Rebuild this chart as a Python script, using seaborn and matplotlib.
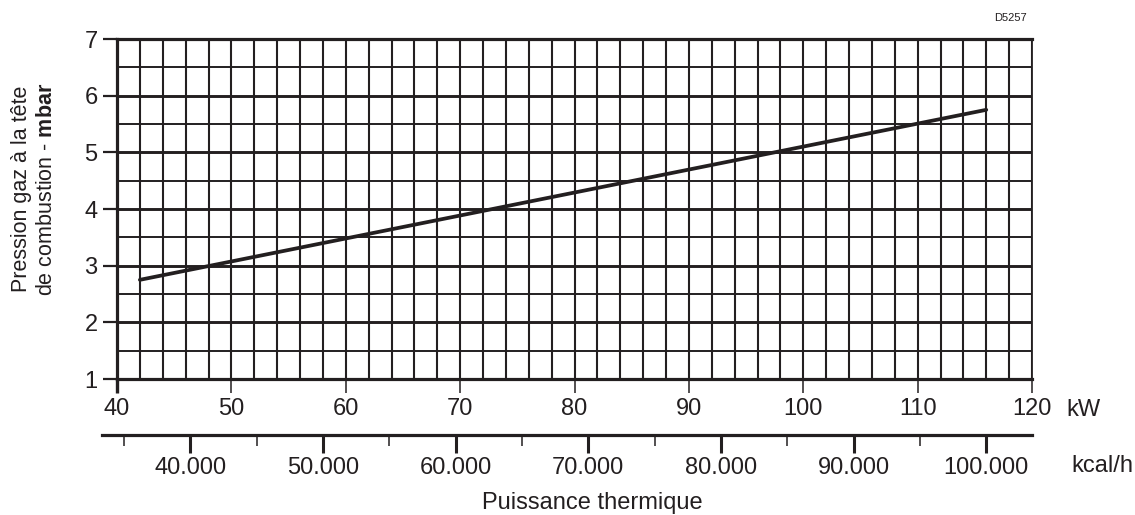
import seaborn as sns
import matplotlib.pyplot as plt
from matplotlib.ticker import MultipleLocator, FixedLocator, FixedFormatter

# values
power_kw = [42, 116]
pressure_mbar = [2.75, 5.75]

kw_ticks = [40, 50, 60, 70, 80, 90, 100, 110, 120]
mbar_ticks = [1, 2, 3, 4, 5, 6, 7]
kcal_ticks = [40000, 50000, 60000, 70000, 80000, 90000, 100000]
kcal_labels = ['40.000', '50.000', '60.000', '70.000', '80.000', '90.000', '100.000']
kcal_minor = [35000, 45000, 55000, 65000, 75000, 85000, 95000]
kcal_per_kw = 862
kcal_axis_start_kw = 38.7

ink = '#231f20'

sns.set_style('ticks')
plt.rcParams['font.family'] = ['Liberation Sans', 'DejaVu Sans']
plt.rcParams['mathtext.fontset'] = 'custom'
plt.rcParams['mathtext.rm'] = 'Liberation Sans'
plt.rcParams['mathtext.bf'] = 'Liberation Sans:bold'

W, H = 1135, 515
fig = plt.figure(figsize=(W / 100, H / 100), dpi=100)
left, bottom, width, height = 117 / W, 136 / H, 915 / W, 340 / H
ax = fig.add_axes([left, bottom, width, height])

sns.lineplot(x=power_kw, y=pressure_mbar, ax=ax, color=ink, linewidth=2.7, zorder=5)

ax.set_xlim(kw_ticks[0], kw_ticks[-1])
ax.set_ylim(mbar_ticks[0], mbar_ticks[-1])
ax.set_xticks(kw_ticks)
ax.set_yticks(mbar_ticks)
ax.xaxis.set_minor_locator(MultipleLocator(2))
ax.yaxis.set_minor_locator(MultipleLocator(0.5))

ax.grid(which='minor', axis='x', color=ink, linewidth=1.5)
ax.grid(which='major', axis='x', color=ink, linewidth=1.5)
ax.grid(which='minor', axis='y', color=ink, linewidth=1.4)
ax.grid(which='major', axis='y', color=ink, linewidth=2.1)

ax.tick_params(which='minor', length=0)
ax.tick_params(axis='x', which='major', direction='out', length=10, width=1.1,
               color=ink, labelsize=17, labelcolor=ink, pad=4)
ax.tick_params(axis='y', which='major', direction='out', length=10, width=1.6,
               color=ink, labelsize=17, labelcolor=ink, pad=4)
ax.xaxis.get_major_ticks()[0].tick1line.set_markeredgewidth(2.4)

for name, sp in ax.spines.items():
    sp.set_visible(True)
    sp.set_color(ink)
    sp.set_linewidth(1.3 if name == 'right' else 2.3)

ax.set_xlabel('')
ax.set_ylabel('')

# second scale in kcal/h
x0 = left + width * (kcal_axis_start_kw - kw_ticks[0]) / (kw_ticks[-1] - kw_ticks[0])
w2 = width * (kw_ticks[-1] - kcal_axis_start_kw) / (kw_ticks[-1] - kw_ticks[0])
ax2 = fig.add_axes([x0, 80 / H, w2, 0.001])
ax2.patch.set_visible(False)
ax2.set_xlim(kcal_axis_start_kw * kcal_per_kw, kw_ticks[-1] * kcal_per_kw)
ax2.set_yticks([])
for name in ['top', 'left', 'right']:
    ax2.spines[name].set_visible(False)
ax2.spines['bottom'].set_color(ink)
ax2.spines['bottom'].set_linewidth(2.3)
ax2.xaxis.set_major_locator(FixedLocator(kcal_ticks))
ax2.xaxis.set_major_formatter(FixedFormatter(kcal_labels))
ax2.xaxis.set_minor_locator(FixedLocator(kcal_minor))
ax2.tick_params(axis='x', which='major', direction='out', length=13, width=2.2,
                color=ink, labelsize=17, labelcolor=ink, pad=3)
ax2.tick_params(axis='x', which='minor', direction='out', length=8, width=1.1, color=ink)

# unit labels and titles
fig.text(1066 / W, 1 - 410 / H, 'kW', fontsize=17, color=ink, va='center', ha='left')
fig.text(1071 / W, 1 - 466 / H, 'kcal/h', fontsize=17, color=ink, va='center', ha='left')
fig.text(592 / W, 1 - 503 / H, 'Puissance thermique', fontsize=17, color=ink,
         va='center', ha='center')
fig.text(34 / W, 1 - 189 / H, 'Pression gaz à la tête\nde combustion - $\\bf{mbar}$',
         fontsize=15.5, color=ink, rotation=90, va='center', ha='center',
         multialignment='center', linespacing=1.25)
fig.text(1027 / W, 1 - 18 / H, 'D5257', fontsize=8, color=ink, va='center', ha='right')

fig.savefig('out.png', dpi=100)
